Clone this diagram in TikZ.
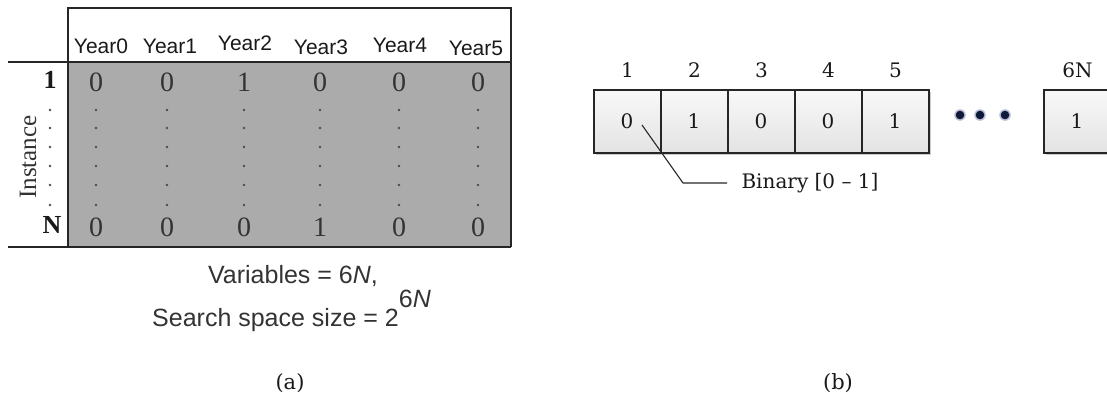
\documentclass[tikz,border=0pt]{standalone}
\usepackage{fontspec}
\setmainfont{Liberation Serif}
\setsansfont{Liberation Sans}
\newfontfamily\bitfont[Ligatures=TeX]{DejaVu Serif}
\usetikzlibrary{positioning,shadows}

\definecolor{tabgrey}{HTML}{ABABAB}
\definecolor{dotblue}{HTML}{0D1B3A}

\begin{document}
\begin{tikzpicture}[x=1pt,y=-1pt,
    head/.style={font=\sffamily\fontsize{21}{21}\selectfont, text=black!90, anchor=base},
    val/.style={font=\fontsize{28}{28}\selectfont, text=black!80, anchor=base},
    captext/.style={font=\sffamily\fontsize{25}{25}\selectfont, text=black!80},
    lbl/.style={font=\bitfont\fontsize{20}{20}\selectfont, text=black!90},
    bitbox/.style={draw=black!85, line width=2pt, minimum width=67pt, minimum height=63pt,
        outer sep=0pt, inner sep=0pt, top color=gray!5, bottom color=gray!22,
        drop shadow={shadow xshift=1.5pt, shadow yshift=-1.8pt, opacity=0.4}},
    tabline/.style={line width=1.6pt, black!85}]
    \useasboundingbox (0,0) rectangle (1107,400);

    % Table
    \fill[tabgrey] (68,62) rectangle (511,247);
    \draw[tabline] (68,62) -- (68,8) -- (511,8) -- (511,247);
    \draw[tabline] (8,62) -- (511,62);
    \draw[tabline] (8,247) -- (511,247);
    \draw[tabline] (68,62) -- (68,247);

    % Column heads
    \foreach \x/\y/\t in {101/53/0, 170/53/1, 245/50/2, 321/54/3, 400/52/4, 476/55/5}
        \node[head] (year\t) at (\x,\y) {Year\t};

    % Values of first and last instance
    \foreach \x/\a/\b [count=\i] in {96/0/0, 167/0/0, 244/1/0, 320/0/1, 399/0/0, 478/0/0} {
        \node[val] (first\i) at (\x,91) {\a};
        \node[val] (last\i) at (\x,236) {\b};
        \foreach \y in {110,128,147,166,185,205}
            \fill[black!70] (\x,\y) circle (1.3);
    }

    % Row labels
    \node[val, font=\bfseries\fontsize{26}{26}\selectfont, text=black!90] (row1) at (50,88) {1};
    \node[val, font=\bfseries\fontsize{26}{26}\selectfont, text=black!90] (rowN) at (52,233) {N};
    \foreach \y in {110,128,147,166,185,205}
        \fill[black!70] (50,\y) circle (1.3);
    \node[val, anchor=center, rotate=90, font=\fontsize{25}{25}\selectfont] (inst) at (28,157) {Instance};

    % Counts below the table
    \node[captext, anchor=base] (vars) at (293,283) {Variables = 6\textit{N},};
    \node[captext, anchor=base west, inner sep=0pt] (space) at (152,326)
        {Search space size = 2\raisebox{19pt}{6\textit{N}}};

    % Bit string
    \node[bitbox] (b1) at (627.5,121.5) {};
    \foreach \i [evaluate=\i as \j using int(\i-1)] in {2,...,5}
        \node[bitbox, right=0pt of b\j] (b\i) {};
    \node[bitbox] (b6) at (1077.5,121.5) {};

    \foreach \i/\v/\t in {1/0/1, 2/1/2, 3/0/3, 4/0/4, 5/1/5, 6/1/6N} {
        \node[lbl] (v\i) at ([xshift=-0.5pt]b\i.center) {\v};
        \node[lbl] (n\i) at (b\i.center |- 0,70) {\t};
    }

    % Ellipsis
    \foreach \x [count=\k] in {960,980,1005} {
        \fill[blue!40!black, opacity=0.25] (\x,115) circle (5.8);
        \fill[dotblue] (\x,115) circle (4.3) coordinate (dot\k);
    }

    % Leader to the bit type
    \coordinate (tip) at (642,125);
    \node[lbl, anchor=west] (bin) at (738,183) {Binary [0 \textendash{} 1]};
    \draw[line width=1.1pt, black!85] (tip) -- (683,183) -- ([xshift=-11pt]bin.west);

    % Sub-captions
    \node[lbl, font=\bitfont\fontsize{21}{21}\selectfont] (capa) at (290,383) {(a)};
    \node[lbl, font=\bitfont\fontsize{21}{21}\selectfont] (capb) at (838,383) {(b)};
\end{tikzpicture}
\end{document}
